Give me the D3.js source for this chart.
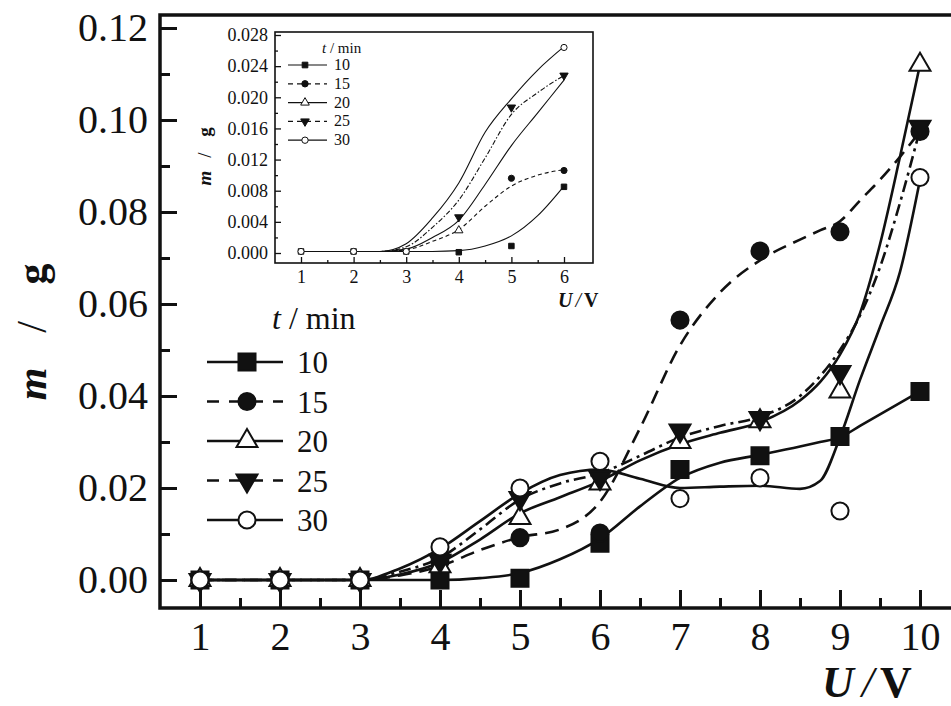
<!DOCTYPE html>
<html>
<head>
<meta charset="utf-8">
<script src="https://cdn.jsdelivr.net/npm/d3@7"></script>
<style>
body{margin:0;background:#fff}
svg{display:block}
</style>
</head>
<body>
<svg id="chart" width="951" height="706"></svg>
<script>
// main chart: m / g against U / V, one series per time t / min
var voltage = [1,2,3,4,5,6,7,8,9,10];
var times = ["10","15","20","25","30"];
var mass10 = [0, 0, 0, 0, 0.0004, 0.0080, 0.0240, 0.0270, 0.0312, 0.0410];
var mass15 = [0, 0, 0, 0.0040, 0.0092, 0.0102, 0.0565, 0.0715, 0.0757, 0.0975];
var mass20 = [0, 0, 0, 0.0030, 0.0135, 0.0210, 0.0300, 0.0345, 0.0410, 0.1120];
var mass25 = [0, 0, 0, 0.0042, 0.0178, 0.0222, 0.0325, 0.0352, 0.0452, 0.0985];
var mass30 = [0, 0, 0, 0.0072, 0.0200, 0.0258, 0.0177, 0.0222, 0.0150, 0.0875];

// fitted curves
var fitU   = [1,2,3,3.5,4,4.5,5,5.5,6,6.5,7,7.5,8,8.5,8.75,9,9.25,9.5,9.75,10];
var fit10  = [0,0,0,0,0,0.0004,0.0015,0.0045,0.009,0.016,0.0222,0.0255,0.0272,0.029,0.030,0.031,0.0335,0.036,0.0385,0.041];
var fit15  = [0,0,0,0.001,0.003,0.0065,0.0093,0.011,0.017,0.033,0.051,0.0625,0.0695,0.074,0.076,0.078,0.0825,0.087,0.092,0.0975];
var fit20  = [0,0,0,0.0012,0.0038,0.0088,0.0145,0.018,0.0215,0.026,0.0295,0.032,0.0343,0.039,0.043,0.049,0.058,0.073,0.092,0.112];
var fit25  = [0,0,0,0.0018,0.0048,0.011,0.0175,0.021,0.0232,0.027,0.031,0.0335,0.0355,0.040,0.0443,0.050,0.0575,0.068,0.082,0.098];
var fit30  = [0,0,0,0.0025,0.0068,0.0128,0.0188,0.0228,0.024,0.022,0.020,0.0203,0.0205,0.0198,0.0215,0.031,0.0435,0.055,0.067,0.087];

var yTicks = [0, 0.02, 0.04, 0.06, 0.08, 0.10, 0.12];
var yMinor = [0.01, 0.03, 0.05, 0.07, 0.09, 0.11];
var xMinor = [1.5,2.5,3.5,4.5,5.5,6.5,7.5,8.5,9.5];

// inset: first six volts
var insetU = [1,2,3,4,5,6];
var in10 = [0.0002, 0.0002, 0.0002, 0.0001, 0.0009, 0.0085];
var in15 = [null, null, null, null, 0.0096, 0.0106];
var in20 = [null, null, null, 0.0029, null, null];
var in25 = [null, null, null, 0.0046, 0.0187, 0.0228];
var in30 = [0.0002, 0.0002, 0.0002, null, null, 0.0264];
var inFitU = [1,2,2.5,3,3.5,4,4.5,5,5.5,6];
var inFit10 = [.0002,.0002,.0002,.0002,.0002,.0003,.0009,.0022,.0048,.0086];
var inFit15 = [.0002,.0002,.0002,.0004,.0015,.0030,.0060,.0086,.0100,.0107];
var inFit20 = [.0002,.0002,.0002,.0005,.0020,.0042,.0088,.0138,.0180,.0222];
var inFit25 = [.0002,.0002,.0002,.0008,.0033,.0068,.0122,.0178,.0206,.0228];
var inFit30 = [.0002,.0002,.0002,.0012,.0045,.0090,.0155,.0198,.0235,.0265];
var inYTicks = [0,0.004,0.008,0.012,0.016,0.020,0.024,0.028];
var inYMinor = [0.002,0.006,0.010,0.014,0.018,0.022,0.026];
var inXMinor = [1.5,2.5,3.5,4.5,5.5];

var marks = [d3.symbolSquare, d3.symbolCircle, d3.symbolTriangle, d3.symbolTriangle, d3.symbolCircle];
var filled = [true, true, false, true, false];
var flip = [false, false, false, true, false];
var dashes = [null, "14,8", null, "12,5,3,5", null];
var inDashes = [null, "4,3", null, "5,2,1.5,2", null];
var markSize = [290, 230, 190, 190, 230];
var inMarkSize = [30, 30, 30, 30, 30];

var svg = d3.select("#chart");
var x = d3.scaleLinear().domain([0.5, 10.5]).range([160, 960]);
var y = d3.scaleLinear().domain([0, 0.12]).range([580, 28]);

var massAll = [mass10, mass15, mass20, mass25, mass30];
var fitAll = [fit10, fit15, fit20, fit25, fit30];

function styleText(g, size) {
  g.selectAll("text").attr("font-size", size).attr("fill", "#111");
  g.selectAll("line").attr("stroke", "#111");
  g.select(".domain").remove();
}

// axes
var gy = svg.append("g").attr("transform", "translate(160,0)")
  .call(d3.axisLeft(y).tickValues(yTicks).tickSize(-17).tickPadding(12).tickFormat(d3.format(".2f")));
styleText(gy, 40); gy.selectAll("line").attr("stroke-width", 3);
var gy2 = svg.append("g").attr("transform", "translate(160,0)")
  .call(d3.axisLeft(y).tickValues(yMinor).tickSize(-10).tickFormat(""));
styleText(gy2, 10); gy2.selectAll("line").attr("stroke-width", 3);

var gx = svg.append("g").attr("transform", "translate(0,608)")
  .call(d3.axisBottom(x).tickValues(voltage).tickSize(-18).tickPadding(14).tickFormat(d3.format("d")));
styleText(gx, 40); gx.selectAll("line").attr("stroke-width", 3);
var gx2 = svg.append("g").attr("transform", "translate(0,608)")
  .call(d3.axisBottom(x).tickValues(xMinor).tickSize(-10).tickFormat(""));
styleText(gx2, 10); gx2.selectAll("line").attr("stroke-width", 3);

svg.append("rect").attr("x", 160).attr("y", 15).attr("width", 800).attr("height", 593)
  .attr("fill", "none").attr("stroke", "#111").attr("stroke-width", 3.5);

// curves
var line = d3.line().x(function(d){ return x(d[0]); }).y(function(d){ return y(d[1]); }).curve(d3.curveMonotoneX);
fitAll.forEach(function(f, i) {
  svg.append("path").datum(fitU.map(function(u, j){ return [u, f[j]]; }))
    .attr("d", line).attr("fill", "none").attr("stroke", "#111").attr("stroke-width", 2.6)
    .attr("stroke-dasharray", dashes[i]);
});

function marker(g, i, cx, cy, size, sw) {
  g.append("path")
    .attr("d", d3.symbol().type(marks[i]).size(size)())
    .attr("transform", "translate(" + cx + "," + cy + ")" + (flip[i] ? " rotate(180)" : ""))
    .attr("fill", filled[i] ? "#111" : "#fff")
    .attr("stroke", "#111").attr("stroke-width", sw);
}

massAll.forEach(function(m, i) {
  m.forEach(function(v, j){ marker(svg, i, x(voltage[j]), y(v), markSize[i], 2); });
});

// legend
svg.append("text").attr("x", 272).attr("y", 329).attr("font-size", 32).attr("fill", "#111")
  .html('<tspan font-style="italic">t</tspan> / min');
times.forEach(function(t, i) {
  var ly = 362 + i * 39.5;
  svg.append("line").attr("x1", 207).attr("x2", 283).attr("y1", ly).attr("y2", ly)
    .attr("stroke", "#111").attr("stroke-width", 2.6).attr("stroke-dasharray", dashes[i] ? "12,10" : null);
  marker(svg, i, 247, ly, markSize[i], 2);
  svg.append("text").attr("x", 297).attr("y", ly + 11).attr("font-size", 31).attr("fill", "#111").text(t);
});

// axis titles
var yl = svg.append("text").attr("transform", "translate(46,0) rotate(-90)")
  .attr("font-size", 42).attr("font-weight", "bold").attr("font-style", "italic").attr("fill", "#111")
  .attr("text-anchor", "middle");
yl.append("tspan").attr("x", -384).text("m");
yl.append("tspan").attr("x", -327).attr("font-style", "normal").attr("font-weight", "normal").text("/");
yl.append("tspan").attr("x", -274).attr("font-style", "normal").text("g");

svg.append("text").attr("x", 822).attr("y", 697).attr("font-size", 44).attr("fill", "#111")
  .html('<tspan font-weight="bold" font-style="italic">U</tspan><tspan dx="8" font-style="italic">/</tspan><tspan dx="6" font-weight="bold">V</tspan>');

// ---------- inset ----------
var ix = d3.scaleLinear().domain([1, 6]).range([301, 564]);
var iy = d3.scaleLinear().domain([0, 0.028]).range([253, 35]);
var inset = svg.append("g");
inset.append("rect").attr("x", 275).attr("y", 32).attr("width", 318).attr("height", 231)
  .attr("fill", "#fff");

var iyAx = inset.append("g").attr("transform", "translate(275,0)")
  .call(d3.axisLeft(iy).tickValues(inYTicks).tickSize(-6).tickPadding(7).tickFormat(d3.format(".3f")));
styleText(iyAx, 18);
var iyAx2 = inset.append("g").attr("transform", "translate(275,0)")
  .call(d3.axisLeft(iy).tickValues(inYMinor).tickSize(-3).tickFormat(""));
styleText(iyAx2, 10);
var ixAx = inset.append("g").attr("transform", "translate(0,263)")
  .call(d3.axisBottom(ix).tickValues(insetU).tickSize(-6).tickPadding(7).tickFormat(d3.format("d")));
styleText(ixAx, 18);
var ixAx2 = inset.append("g").attr("transform", "translate(0,263)")
  .call(d3.axisBottom(ix).tickValues(inXMinor).tickSize(-3).tickFormat(""));
styleText(ixAx2, 10);
inset.selectAll("line").attr("stroke-width", 1.3);

inset.append("rect").attr("x", 275).attr("y", 32).attr("width", 318).attr("height", 231)
  .attr("fill", "none").attr("stroke", "#111").attr("stroke-width", 1.6);

var iline = d3.line().x(function(d){ return ix(d[0]); }).y(function(d){ return iy(d[1]); }).curve(d3.curveMonotoneX);
[inFit10, inFit15, inFit20, inFit25, inFit30].forEach(function(f, i) {
  inset.append("path").datum(inFitU.map(function(u, j){ return [u, f[j]]; }))
    .attr("d", iline).attr("fill", "none").attr("stroke", "#111").attr("stroke-width", 1.1)
    .attr("stroke-dasharray", inDashes[i]);
});
[in10, in15, in20, in25, in30].forEach(function(m, i) {
  m.forEach(function(v, j){ if (v !== null) marker(inset, i, ix(insetU[j]), iy(v), inMarkSize[i], 1); });
});

inset.append("text").attr("x", 322).attr("y", 53).attr("font-size", 15).attr("fill", "#111")
  .html('<tspan font-style="italic">t</tspan> / min');
times.forEach(function(t, i) {
  var ly = 65 + i * 18.8;
  inset.append("line").attr("x1", 288).attr("x2", 327).attr("y1", ly).attr("y2", ly)
    .attr("stroke", "#111").attr("stroke-width", 1.2).attr("stroke-dasharray", dashes[i] ? "5,4" : null);
  marker(inset, i, 305, ly, 32, 1);
  inset.append("text").attr("x", 334).attr("y", ly + 5).attr("font-size", 16).attr("fill", "#111").text(t);
});

var iyl = inset.append("text").attr("transform", "translate(211,0) rotate(-90)")
  .attr("font-size", 19).attr("font-weight", "bold").attr("font-style", "italic").attr("fill", "#111")
  .attr("text-anchor", "middle");
iyl.append("tspan").attr("x", -178).text("m");
iyl.append("tspan").attr("x", -155).attr("font-style", "normal").attr("font-weight", "normal").text("/");
iyl.append("tspan").attr("x", -132).attr("font-style", "normal").text("g");

inset.append("text").attr("x", 558).attr("y", 307).attr("font-size", 20).attr("fill", "#111")
  .html('<tspan font-weight="bold" font-style="italic">U</tspan><tspan dx="3" font-style="italic">/</tspan><tspan dx="3" font-weight="bold">V</tspan>');

// Times-like face everywhere
svg.selectAll("text").style("font-family", "'Liberation Serif'");
</script>
</body>
</html>
